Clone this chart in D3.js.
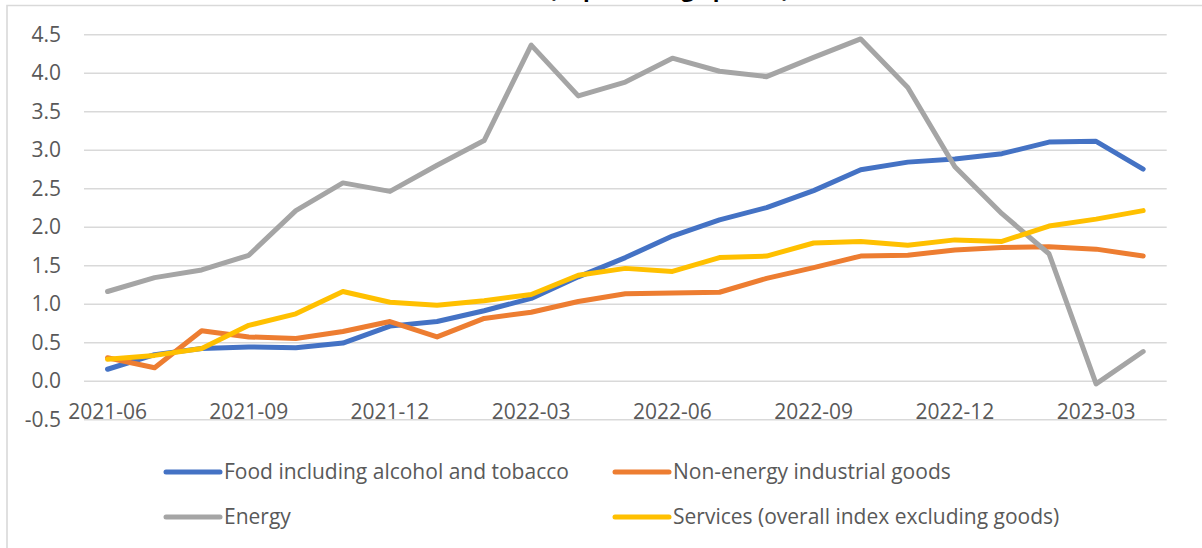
<!DOCTYPE html>
<html>
<head>
<meta charset="utf-8">
<script src="https://cdn.jsdelivr.net/npm/d3@7"></script>
<style>
  html, body { margin: 0; padding: 0; background: #ffffff; }
  svg { display: block; font-family: "Open Sans", "Liberation Sans", sans-serif; }
</style>
</head>
<body>
<svg id="chart" width="1202" height="548"></svg>
<script>
// Monthly contributions to HICP inflation, percentage points
const months = [
  "2021-06","2021-07","2021-08","2021-09","2021-10","2021-11","2021-12",
  "2022-01","2022-02","2022-03","2022-04","2022-05","2022-06","2022-07",
  "2022-08","2022-09","2022-10","2022-11","2022-12","2023-01","2023-02",
  "2023-03","2023-04"
];
const foodValues = [0.15,0.34,0.42,0.44,0.43,0.49,0.71,0.77,0.91,1.07,1.35,1.60,1.88,2.09,2.25,2.47,2.74,2.84,2.88,2.95,3.10,3.11,2.75];
const nonEnergyValues = [0.30,0.17,0.65,0.57,0.55,0.64,0.77,0.57,0.81,0.89,1.03,1.13,1.14,1.15,1.33,1.47,1.62,1.63,1.70,1.73,1.74,1.71,1.62];
const energyValues = [1.16,1.34,1.44,1.63,2.21,2.57,2.46,2.80,3.12,4.36,3.70,3.88,4.19,4.02,3.95,4.20,4.44,3.81,2.78,2.17,1.65,-0.04,0.38];
const servicesValues = [0.28,0.33,0.42,0.72,0.87,1.16,1.02,0.98,1.04,1.12,1.37,1.46,1.42,1.60,1.62,1.79,1.81,1.76,1.83,1.81,2.01,2.10,2.21];
const seriesNames = [
  "Food including alcohol and tobacco",
  "Non-energy industrial goods",
  "Energy",
  "Services (overall index excluding goods)"
];
const seriesColors = ["#4472C4", "#ED7D31", "#A5A5A5", "#FFC000"];
const yTickValues = [-0.5, 0, 0.5, 1, 1.5, 2, 2.5, 3, 3.5, 4, 4.5];
const xTickLabels = ["2021-06","2021-09","2021-12","2022-03","2022-06","2022-09","2022-12","2023-03"];
const subtitle = "(in percentage points)";

const series = [foodValues, nonEnergyValues, energyValues, servicesValues].map((values, i) => ({
  name: seriesNames[i],
  color: seriesColors[i],
  values
}));

const svg = d3.select("#chart");
const textColor = "#595959";
const gridColor = "#d9d9d9";

const plot = { left: 84, right: 1166.7, top: 34.3, bottom: 419.3 };

const x = d3.scaleBand().domain(months).range([plot.left, plot.right]);
const y = d3.scaleLinear().domain([-0.5, 4.5]).range([plot.bottom, plot.top]);
const cx = m => x(m) + x.bandwidth() / 2;

// Chart frame (left and top edges)
svg.append("path")
  .attr("d", `M7,548 V5.5 H1202`)
  .attr("fill", "none")
  .attr("stroke", gridColor)
  .attr("stroke-width", 1.6);

// Subtitle sitting just above the frame, mostly outside the view
svg.append("text")
  .attr("x", 669)
  .attr("y", -3)
  .attr("text-anchor", "middle")
  .attr("font-size", 22)
  .attr("font-weight", 700)
  .attr("fill", "#000000")
  .text(subtitle);

// Horizontal gridlines
svg.append("g")
  .attr("transform", `translate(${plot.left},0)`)
  .call(d3.axisLeft(y).tickValues(yTickValues).tickSize(-(plot.right - plot.left)).tickFormat(""))
  .call(g => g.select(".domain").remove())
  .call(g => g.selectAll(".tick line").attr("stroke", gridColor).attr("stroke-width", 1.6));

// Y axis labels (plain hyphen for negatives)
svg.append("g")
  .attr("transform", `translate(${plot.left},0)`)
  .call(d3.axisLeft(y).tickValues(yTickValues).tickSize(0).tickPadding(23).tickFormat(d => d.toFixed(1)))
  .call(g => g.select(".domain").remove())
  .call(g => g.selectAll("text").attr("fill", textColor).attr("font-size", 21)
    .attr("font-family", "'Open Sans', sans-serif"));

// X axis labels crossing at zero
svg.append("g")
  .attr("transform", `translate(0,${y(0)})`)
  .call(d3.axisBottom(x).tickValues(xTickLabels).tickSize(0).tickPadding(23))
  .call(g => g.select(".domain").remove())
  .call(g => g.selectAll("text").attr("fill", textColor).attr("font-size", 21)
    .attr("font-family", "'Open Sans', sans-serif"));

// Series lines
const line = d3.line()
  .x((d, i) => cx(months[i]))
  .y(d => y(d));

svg.append("g")
  .selectAll("path")
  .data(series)
  .join("path")
  .attr("d", d => line(d.values))
  .attr("fill", "none")
  .attr("stroke", d => d.color)
  .attr("stroke-width", 5)
  .attr("stroke-linecap", "round")
  .attr("stroke-linejoin", "round");

// Legend, two columns by two rows
const legendCols = [166, 615];
const legendRows = [472, 517];
const legend = svg.append("g")
  .selectAll("g")
  .data(series)
  .join("g")
  .attr("transform", (d, i) => `translate(${legendCols[i % 2]},${legendRows[Math.floor(i / 2)]})`);

legend.append("line")
  .attr("x1", 0).attr("x2", 54)
  .attr("y1", 0).attr("y2", 0)
  .attr("stroke", d => d.color)
  .attr("stroke-width", 5)
  .attr("stroke-linecap", "round");

legend.append("text")
  .attr("x", 58)
  .attr("dy", "0.35em")
  .attr("font-size", 21)
  .attr("fill", textColor)
  .text(d => d.name);
</script>
</body>
</html>
